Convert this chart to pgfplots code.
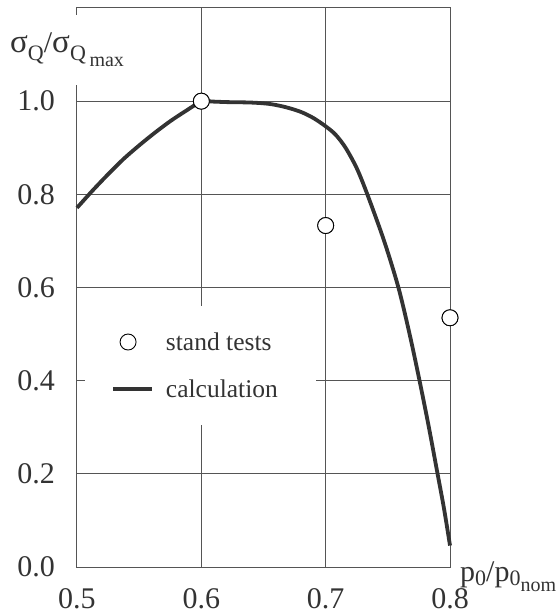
\documentclass[border=0pt]{standalone}
\usepackage{pgfplots}
\pgfplotsset{compat=1.18}
\usepackage{fontspec}
\setmainfont{Liberation Serif}
\definecolor{gridc}{HTML}{555555}
\definecolor{curvec}{HTML}{333333}
\definecolor{textc}{HTML}{333333}
\begin{document}
\begin{tikzpicture}
\path[use as bounding box] (-77pt,-48pt) rectangle (479pt,567pt);
\begin{axis}[
  at={(0pt,0pt)}, anchor=south west,
  scale only axis, width=373pt, height=559pt,
  xmin=0.5, xmax=0.8, ymin=0, ymax=1.2,
  xtick={0.5,0.6,0.7,0.8}, ytick={0,0.2,0.4,0.6,0.8,1.0},
  xticklabels={0.5,0.6,0.7,0.8}, yticklabels={0.0,0.2,0.4,0.6,0.8,1.0},
  major tick length=0pt,
  grid=major,
  grid style={draw=gridc, line width=1pt},
  axis line style={draw=gridc, line width=1pt},
  ticklabel style={font=\fontsize{30}{30}\selectfont, text=textc, inner sep=0pt},
  yticklabel style={xshift=-22pt},
  xticklabel style={yshift=-21pt},
  clip=false,
  legend cell align=left,
  legend style={draw=none, fill=white,
    at={(axis description cs:0.0214,0.4665)}, anchor=north west,
    inner xsep=26pt, inner ysep=24pt, row sep=24pt,
    font=\fontsize{25.5}{26}\selectfont, text=textc,
    nodes={inner xsep=12pt}},
]
\addplot[only marks, mark=*, mark size=8pt, mark options={fill=white, draw=black, line width=0.9pt},
  legend image code/.code={\draw[mark repeat=2,mark phase=2] plot coordinates {(0pt,0pt) (13pt,0pt) (26pt,0pt)};}]
  coordinates {(0.6,1.0) (0.7,0.733) (0.8,0.535)};
\addlegendentry{stand tests}
\addplot[curvec, line width=3.8pt, smooth, tension=0.5, line join=round,
  legend image code/.code={\draw[curvec, line width=3.8pt] (-2pt,0pt) -- (37pt,0pt);}]
  coordinates {
  (0.5,0.771) (0.5125,0.808) (0.525,0.843) (0.5375,0.876) (0.55,0.905)
  (0.5625,0.932) (0.575,0.957) (0.5875,0.979) (0.6,0.999) (0.61,0.999)
  (0.62,0.998) (0.64,0.997) (0.655,0.994) (0.668,0.987) (0.68,0.977)
  (0.69,0.964) (0.70,0.946) (0.708,0.928) (0.716,0.900) (0.725,0.856)
  (0.7335,0.80) (0.747,0.70) (0.7585,0.60) (0.7675,0.50) (0.7755,0.40)
  (0.783,0.30) (0.790,0.20) (0.7952,0.125) (0.8,0.046)};
\addlegendentry{calculation}
\addplot[only marks, mark=*, mark size=8pt, mark options={fill=white, draw=black, line width=0.9pt}, forget plot]
  coordinates {(0.6,1.0) (0.7,0.733) (0.8,0.535)};
\end{axis}
\fill[white] (-72pt,482pt) rectangle (55pt,552pt);
\node[anchor=base west, inner sep=0pt, text=textc] at (-67pt,514pt)
  {\fontsize{30}{30}\selectfont {\fontsize{33}{33}\selectfont σ}\raisebox{-8pt}{\fontsize{22}{22}\selectfont Q}/{\fontsize{33}{33}\selectfont σ}\raisebox{-8pt}{\fontsize{22}{22}\selectfont Q\,\raisebox{-6pt}{\fontsize{20}{20}\selectfont max}}};
\node[anchor=base west, inner sep=0pt, text=textc] at (383pt,-14pt)
  {\fontsize{30}{30}\selectfont p\raisebox{-4pt}{\fontsize{22}{22}\selectfont 0}/p\raisebox{-4pt}{\fontsize{22}{22}\selectfont 0\raisebox{-6pt}{\fontsize{20}{20}\selectfont nom}}};
\end{tikzpicture}
\end{document}
